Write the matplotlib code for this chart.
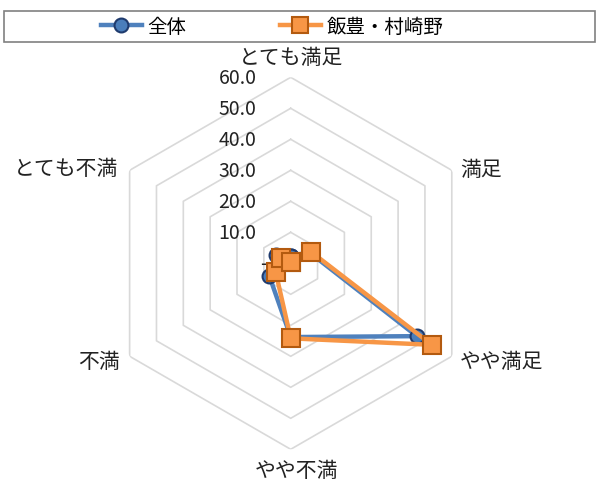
import numpy as np
import matplotlib
matplotlib.use("Agg")
import matplotlib.pyplot as plt
from matplotlib.patches import Rectangle
from matplotlib.lines import Line2D

plt.rcParams['font.family'] = ['Noto Sans CJK JP', 'DejaVu Sans']

categories = ['とても満足', '満足', 'やや満足', 'やや不満', '不満', 'とても不満']
series_names = ['全体', '飯豊・村崎野']
zentai = [2.4, 7.0, 47.0, 23.8, 8.0, 5.6]
iitoyo = [0.3, 7.5, 52.6, 24.2, 5.6, 3.5]
rticks = [10, 20, 30, 40, 50, 60]
rtick_labels = ['10.0', '20.0', '30.0', '40.0', '50.0', '60.0']
zero_label = '-'

W, H = 599, 485
fig = plt.figure(figsize=(W / 100, H / 100), dpi=100)
fig.patch.set_facecolor('white')

cx, cy, R = 290.7, 264.3, 186.0
ax = fig.add_axes([(cx - R) / W, (H - cy - R) / H, 2 * R / W, 2 * R / H],
                  projection='polar')
ax.set_theta_zero_location('N')
ax.set_theta_direction(-1)
ax.set_ylim(0, 60)
ax.axis('off')

n = len(categories)
angles = np.arange(n) * 2 * np.pi / n
ang_c = np.concatenate([angles, angles[:1]])

grid_col = '#d9d9d9'
for r in rticks:
    ax.plot(ang_c, [r] * (n + 1), color=grid_col, lw=1.2, zorder=1)

# series
blue_line, blue_face, blue_edge = '#4f81bd', '#4a7ebb', '#1f3b6e'
orn_line, orn_face, orn_edge = '#f79646', '#f79646', '#b35a0f'
z = list(zentai) + [zentai[0]]
o = list(iitoyo) + [iitoyo[0]]
ax.plot(ang_c, z, color=blue_line, lw=3.2, marker='o', ms=10,
        mfc=blue_face, mec=blue_edge, mew=1.5, zorder=3, clip_on=False)
ax.plot(ang_c, o, color=orn_line, lw=3.2, marker='s', ms=12.5,
        mfc=orn_face, mec=orn_edge, mew=1.5, zorder=4, clip_on=False)

# radial tick labels
for r, lab in zip(rticks, rtick_labels):
    ax.annotate(lab, xy=(0, r), xytext=(-34, 0), textcoords='offset pixels',
                ha='right', va='center', fontsize=14, color='#222222',
                annotation_clip=False)
ax.annotate(zero_label, xy=(0, 0), xytext=(-24, 0), textcoords='offset pixels',
            ha='right', va='center', fontsize=14, color='#222222',
            annotation_clip=False)

# category labels
offs = [(0, 20, 'center'), (8, 1, 'left'), (8, -5, 'left'),
        (6, -21, 'center'), (-10, -5, 'right'), (-11, 2, 'right')]
for a, lab, (dx, dy, ha) in zip(angles, categories, offs):
    ax.annotate(lab, xy=(a, 60), xytext=(dx, dy), textcoords='offset pixels',
                ha=ha, va='center', fontsize=15, color='#222222',
                annotation_clip=False)

# legend box
fig.patches.append(Rectangle((4 / W, 1 - 43 / H), 591 / W, 31 / H,
                             transform=fig.transFigure, fill=False,
                             edgecolor='#808080', lw=1.2))
handles = [
    Line2D([], [], color=blue_line, lw=3.2, marker='o', ms=10,
           mfc=blue_face, mec=blue_edge, mew=1.5),
    Line2D([], [], color=orn_line, lw=3.2, marker='s', ms=11,
           mfc=orn_face, mec=orn_edge, mew=1.5),
]
fig.legend(handles, series_names, loc='center', ncol=2,
           bbox_to_anchor=(272 / W, 1 - 27.5 / H), frameon=False,
           fontsize=14, handlelength=2.1, handletextpad=0.3,
           columnspacing=4.8, borderpad=0)

fig.savefig('out.png', dpi=100, facecolor='white')
